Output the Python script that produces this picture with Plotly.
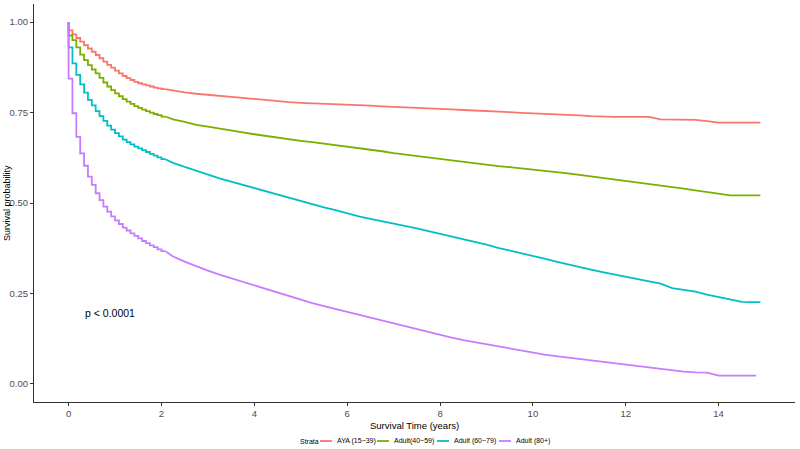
import plotly.graph_objects as go

# ---- data ----
strata = ["AYA (15\u221239)", "Adult(40\u221259)", "Adult (60\u221279)", "Adult (80+)"]
colors = ["#F8766D", "#7CAE00", "#00BFC4", "#C77CFF"]

# monthly grid for first two years (months 0..24)
months = [0, 1, 2, 3, 4, 5, 6, 7, 8, 9, 10, 11, 12, 13, 14, 15, 16, 17, 18, 19, 20, 21, 22, 23, 24]
# quarterly grid afterwards (years)
quarters = [2.25, 2.5, 2.75, 3.0, 3.25, 3.5, 3.75, 4.0, 4.25, 4.5, 4.75, 5.0, 5.25, 5.5, 5.75,
            6.0, 6.25, 6.5, 6.75, 7.0, 7.25, 7.5, 7.75, 8.0, 8.25, 8.5, 8.75, 9.0, 9.25, 9.5,
            9.75, 10.0, 10.25, 10.5, 10.75, 11.0, 11.25, 11.5, 11.75, 12.0, 12.25, 12.5, 12.75,
            13.0, 13.25, 13.5, 13.75, 14.0, 14.25, 14.5, 14.75]
end_time = [14.9, 14.9, 14.9, 14.81]

aya_early = [0.977, 0.966, 0.956, 0.946, 0.936, 0.927, 0.918, 0.909, 0.900, 0.891, 0.882, 0.874,
             0.866, 0.858, 0.851, 0.845, 0.840, 0.835, 0.831, 0.828, 0.825, 0.822, 0.819, 0.817, 0.815]
aya_late = [0.811, 0.806, 0.802, 0.799, 0.796, 0.793, 0.790, 0.787, 0.784, 0.781, 0.779, 0.777,
            0.776, 0.775, 0.774, 0.772, 0.771, 0.769, 0.767, 0.766, 0.764, 0.763, 0.762, 0.760,
            0.759, 0.757, 0.756, 0.754, 0.752, 0.751, 0.749, 0.748, 0.746, 0.745, 0.743, 0.742,
            0.740, 0.738, 0.738, 0.738, 0.738, 0.738, 0.731, 0.731, 0.730, 0.730, 0.726, 0.722,
            0.722, 0.722, 0.722]

ad40_early = [0.963, 0.950, 0.930, 0.910, 0.895, 0.881, 0.869, 0.858, 0.846, 0.833, 0.822, 0.812,
              0.803, 0.795, 0.787, 0.780, 0.774, 0.768, 0.763, 0.758, 0.754, 0.750, 0.746, 0.743, 0.739]
ad40_late = [0.731, 0.724, 0.716, 0.711, 0.705, 0.700, 0.695, 0.690, 0.685, 0.680, 0.676, 0.672,
             0.668, 0.664, 0.660, 0.657, 0.653, 0.648, 0.643, 0.638, 0.634, 0.630, 0.625, 0.620,
             0.616, 0.613, 0.610, 0.606, 0.602, 0.599, 0.596, 0.593, 0.589, 0.586, 0.582, 0.578,
             0.574, 0.570, 0.566, 0.562, 0.558, 0.554, 0.550, 0.545, 0.540, 0.535, 0.531, 0.525,
             0.521, 0.521, 0.521]

ad60_early = [0.930, 0.886, 0.854, 0.828, 0.805, 0.785, 0.770, 0.754, 0.740, 0.727, 0.714, 0.703,
              0.693, 0.684, 0.675, 0.668, 0.662, 0.656, 0.651, 0.646, 0.641, 0.636, 0.631, 0.626, 0.621]
ad60_late = [0.611, 0.600, 0.589, 0.578, 0.568, 0.559, 0.550, 0.540, 0.532, 0.524, 0.515, 0.506,
             0.497, 0.488, 0.480, 0.471, 0.463, 0.456, 0.450, 0.443, 0.436, 0.430, 0.422, 0.415,
             0.408, 0.400, 0.393, 0.385, 0.376, 0.369, 0.361, 0.353, 0.346, 0.338, 0.330, 0.323,
             0.316, 0.309, 0.303, 0.296, 0.290, 0.283, 0.277, 0.265, 0.260, 0.255, 0.247, 0.240,
             0.233, 0.227, 0.226]

ad80_early = [0.844, 0.748, 0.683, 0.637, 0.603, 0.573, 0.550, 0.527, 0.508, 0.490, 0.476, 0.463,
              0.452, 0.442, 0.432, 0.424, 0.416, 0.409, 0.402, 0.395, 0.389, 0.383, 0.378, 0.372, 0.367]
ad80_late = [0.352, 0.338, 0.325, 0.313, 0.302, 0.292, 0.282, 0.272, 0.262, 0.252, 0.242, 0.232,
             0.223, 0.215, 0.207, 0.198, 0.190, 0.182, 0.174, 0.166, 0.158, 0.150, 0.142, 0.135,
             0.128, 0.121, 0.115, 0.109, 0.103, 0.097, 0.091, 0.086, 0.081, 0.077, 0.073, 0.069,
             0.065, 0.061, 0.057, 0.054, 0.050, 0.046, 0.042, 0.038, 0.034, 0.032, 0.031, 0.023,
             0.023, 0.023, 0.023]

early_vals = [aya_early, ad40_early, ad60_early, ad80_early]
late_vals = [aya_late, ad40_late, ad60_late, ad80_late]

x_ticks = [0, 2, 4, 6, 8, 10, 12, 14]
y_ticks = [0.0, 0.25, 0.5, 0.75, 1.0]
y_ticklabels = ["0.00", "0.25", "0.50", "0.75", "1.00"]

# ---- figure ----
fig = go.Figure()
for name, col, ev, lv, te in zip(strata, colors, early_vals, late_vals, end_time):
    # early part: monthly Kaplan-Meier steps
    xs = [0.0] + [m / 12 for m in months] + [(months[-1] + 1) / 12]
    ys = [1.0] + list(ev) + [ev[-1]]
    fig.add_trace(go.Scatter(x=xs, y=ys, mode="lines", name=name, legendgroup=name,
                             showlegend=False,
                             line=dict(color=col, width=1.8, shape="hv")))
    # later part: fine steps, drawn as a near-continuous line
    xl = [xs[-1]]
    yl = [ev[-1]]
    for q, v in zip(quarters, lv):
        if q < te:
            xl.append(q)
            yl.append(v)
    xl.append(te)
    yl.append(yl[-1])
    fig.add_trace(go.Scatter(x=xl, y=yl, mode="lines", name=name, legendgroup=name,
                             showlegend=False,
                             line=dict(color=col, width=1.8, shape="linear")))

FONT = "Liberation Sans, Arial, sans-serif"
L, R, T, B = 34, 5, 4, 47
W, H = 800, 449
PW = W - L - R
PH = H - T - B


def px(xpix):
    return (xpix - L) / PW


def py(ypix):
    return (H - B - ypix) / PH


annotations = [
    dict(text="Survival Time (years)", xref="paper", yref="paper", x=0.5, y=py(425),
         xanchor="center", yanchor="middle", showarrow=False, font=dict(size=9.5, color="#000")),
    dict(text="Survival probability", xref="paper", yref="paper", x=px(7), y=0.5,
         xanchor="center", yanchor="middle", textangle=-90, showarrow=False,
         font=dict(size=9, color="#000")),
    dict(text="p < 0.0001", xref="x", yref="y", x=0.3, y=0.197, xanchor="left",
         yanchor="middle", showarrow=False, font=dict(size=10.5, color="#000")),
]
shapes = []

# manual legend (bottom, horizontal)
leg_y = py(441)
annotations.append(dict(text="Strata", xref="paper", yref="paper", x=px(298), y=leg_y,
                        xanchor="left", yanchor="middle", showarrow=False,
                        font=dict(size=7, color="#000")))
key_left = [320, 377, 437, 499]
for name, col, kl in zip(strata, colors, key_left):
    shapes.append(dict(type="line", xref="paper", yref="paper", x0=px(kl), x1=px(kl + 12),
                       y0=leg_y, y1=leg_y, line=dict(color=col, width=1.8)))
    annotations.append(dict(text=name, xref="paper", yref="paper", x=px(kl + 15), y=leg_y,
                            xanchor="left", yanchor="middle", showarrow=False,
                            font=dict(size=7, color="#000")))

fig.update_layout(
    width=W, height=H,
    margin=dict(l=L, r=R, t=T, b=B),
    paper_bgcolor="white", plot_bgcolor="white",
    font=dict(family=FONT, color="#000000"),
    showlegend=False,
    xaxis=dict(range=[-0.745, 15.645], tickvals=x_ticks, showgrid=False, zeroline=False,
               showline=True, linecolor="#333333", linewidth=1.2, automargin=False,
               ticks="outside", ticklen=2.5, tickcolor="#333333", tickwidth=1,
               ticklabelstandoff=0,
               tickfont=dict(size=9.5, color="#4D4D4D")),
    yaxis=dict(range=[-0.05, 1.05], tickvals=y_ticks, ticktext=y_ticklabels,
               showgrid=False, zeroline=False, automargin=False,
               showline=True, linecolor="#333333", linewidth=1.2,
               ticks="outside", ticklen=3, tickcolor="#333333", tickwidth=1,
               tickfont=dict(size=9.5, color="#4D4D4D")),
    annotations=annotations,
    shapes=shapes,
)

fig.write_html(
    "out.html",
    config={"displayModeBar": False},
    post_script="document.body.style.margin='0';document.body.style.padding='0';"
                "document.body.style.overflow='hidden';",
)
